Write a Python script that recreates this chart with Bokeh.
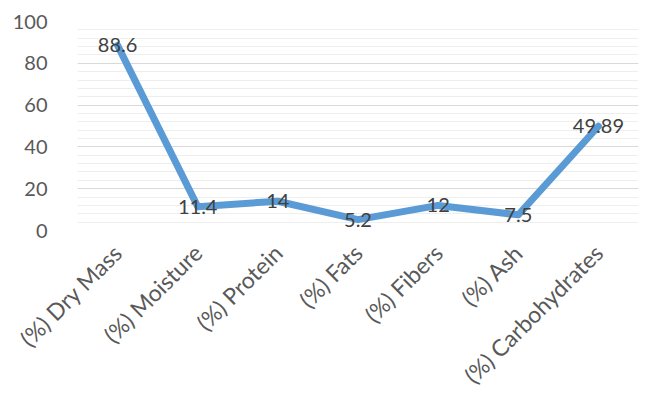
import math
from bokeh.plotting import figure
from bokeh.models import FactorRange, Range1d, ColumnDataSource, FixedTicker
from bokeh.core.properties import value
from bokeh.embed import file_html
from bokeh.resources import INLINE

categories = ["(%) Dry Mass", "(%) Moisture", "(%) Protein", "(%) Fats",
              "(%) Fibers", "(%) Ash", "(%) Carbohydrates"]
values = [88.6, 11.4, 14, 5.2, 12, 7.5, 49.89]
labels = ["88.6", "11.4", "14", "5.2", "12", "7.5", "49.89"]
y_ticks = [0, 20, 40, 60, 80, 100]

src = ColumnDataSource(dict(x=categories, y=values, t=labels))

p = figure(width=648, height=401, x_range=FactorRange(*categories, range_padding=0),
           y_range=Range1d(0, 100), output_backend="svg", toolbar_location=None,
           min_border_left=77, min_border_right=10, min_border_top=21, min_border_bottom=169)
p.outline_line_color = None
p.background_fill_color = "white"
p.border_fill_color = "white"

p.line("x", "y", source=src, line_color="#5B9BD5", line_width=7, line_join="round", line_cap="round")
p.text("x", "y", text="t", source=src, text_align="center", text_baseline="middle",
       text_font=value("Lato"), text_font_size="20px", text_color="#404040")

p.xgrid.grid_line_color = None
p.ygrid.grid_line_color = "#d9d9d9"
p.ygrid.minor_grid_line_color = "#eeeeee"
p.yaxis.ticker = FixedTicker(ticks=y_ticks, minor_ticks=list(range(0, 101, 4)))

for ax in (p.xaxis, p.yaxis):
    ax.axis_line_color = None
    ax.major_tick_line_color = None
    ax.minor_tick_line_color = None
    ax.major_label_text_font = "Lato"
    ax.major_label_text_color = "#595959"

p.yaxis.major_label_text_font_size = "20px"
p.xaxis.major_label_text_font_size = "23px"
p.xaxis.major_label_orientation = math.pi / 4
p.yaxis.major_label_standoff = 24
p.xaxis.major_label_standoff = 12

open("out.html", "w").write(file_html(p, INLINE))
